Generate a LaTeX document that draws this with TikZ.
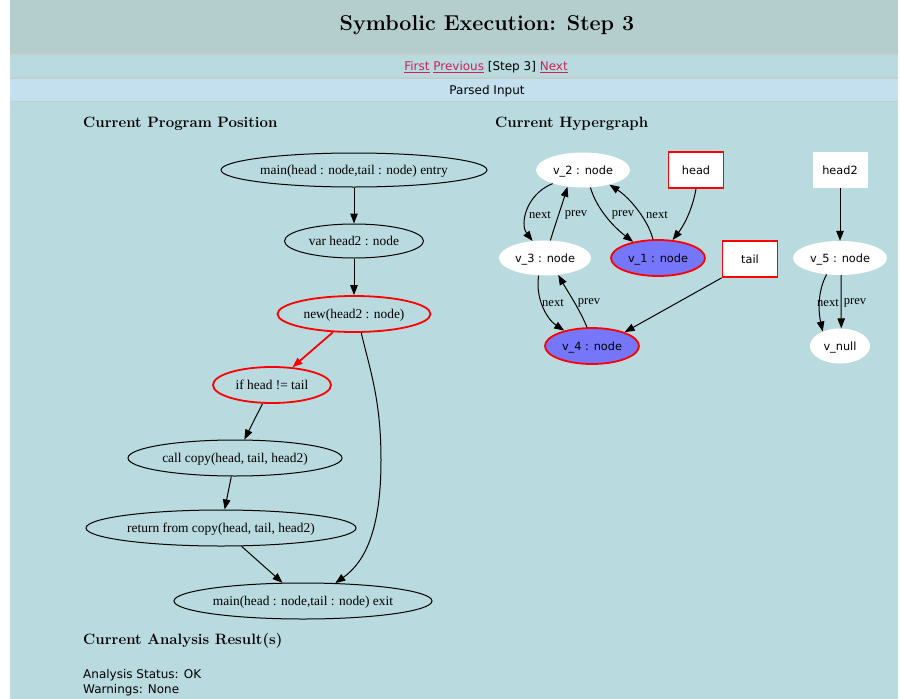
\documentclass[tikz,border=0pt]{standalone}
\usepackage{fontspec}
\usetikzlibrary{shapes.geometric,arrows.meta,calc}
\newfontfamily\dvs{DejaVu Sans}
\newfontfamily\tms{Liberation Serif}
\definecolor{pagebg}{HTML}{B9DADF}
\definecolor{titlebg}{HTML}{B4CDCD}
\definecolor{inputbg}{HTML}{C4E0EE}
\definecolor{rulegray}{HTML}{C4CCCC}
\definecolor{linkred}{HTML}{C8245A}
\definecolor{heapblue}{HTML}{7676FA}
\tikzset{
  prog/.style={ellipse, draw=black, line width=1pt, inner sep=0pt, text depth=0pt,
    font=\tms\fontsize{13.4}{15}\selectfont},
  hot/.style={draw=red, line width=1.8pt},
  heapnode/.style={ellipse, fill=white, inner sep=0pt, text depth=0pt,
    font=\dvs\fontsize{11.3}{13}\selectfont},
  marked/.style={fill=heapblue, draw=red, line width=1.8pt},
  varbox/.style={rectangle, fill=white, inner sep=0pt, minimum width=55, minimum height=36,
    text depth=0pt, font=\dvs\fontsize{11.3}{13}\selectfont},
  edge/.style={-{Triangle[length=10pt,width=7.5pt]}, line width=1pt},
  hotedge/.style={edge, draw=red, line width=1.8pt},
  elabel/.style={inner sep=0pt, font=\tms\fontsize{12.6}{14}\selectfont},
  heading/.style={anchor=west, inner sep=0pt, font=\bfseries\fontsize{15}{17}\selectfont},
  plain/.style={inner sep=0pt, font=\dvs\fontsize{12}{14}\selectfont},
}
\begin{document}
\begin{tikzpicture}[x=1pt,y=-1pt]
\useasboundingbox (0,0) rectangle (900,699);
\fill[white] (0,0) rectangle (900,699);
% page bands
\fill[pagebg] (10,0) rectangle (898,699);
\fill[titlebg] (10,0) rectangle (898,54);
\fill[inputbg] (10,79) rectangle (898,101);
\draw[rulegray, line width=1.5pt] (10,54) -- (898,54);
\draw[rulegray, line width=1.5pt] (10,78) -- (898,78);
\draw[rulegray, line width=1.5pt] (10,101.5) -- (898,101.5);

\node[inner sep=0pt, font=\bfseries\fontsize{21.5}{25}\selectfont] (title) at (487,25) {Symbolic Execution: Step 3};
\node[plain] (nav) at (486,67) {{\color{linkred}\underline{First}} {\color{linkred}\underline{Previous}} [Step 3] {\color{linkred}\underline{Next}}};
\node[plain] (parsed) at (487,91) {Parsed Input};

\node[heading] (hprog) at (83,123.5) {Current Program Position};
\node[heading] (hgraph) at (495,123.5) {Current Hypergraph};
\node[heading] (hres) at (83,640.5) {Current Analysis Result(s)};
\node[plain, anchor=west] (status) at (83,675) {Analysis Status: OK};
\node[plain, anchor=west] (warn) at (83,690) {Warnings: None};

% program positions
\node[prog, minimum width=266, minimum height=34] (entry) at (354,170) {main(head : node,tail : node) entry};
\node[prog, minimum width=139, minimum height=34] (var) at (354,241) {var head2 : node};
\node[prog, hot, minimum width=153, minimum height=36] (new) at (354,314) {new(head2 : node)};
\node[prog, hot, minimum width=118, minimum height=36] (if) at (272,385) {if head != tail};
\node[prog, minimum width=214, minimum height=36] (call) at (235,458) {call copy(head, tail, head2)};
\node[prog, minimum width=270, minimum height=36] (ret) at (221,528) {return from copy(head, tail, head2)};
\node[prog, minimum width=258, minimum height=36] (exit) at (303,601) {main(head : node,tail : node) exit};

\draw[edge] (entry) -- (var);
\draw[edge] (var) -- (new);
\draw[hotedge] (new) -- (if);
\draw[edge] (if) -- (call);
\draw[edge] (call) -- (ret);
\draw[edge] (ret) -- (exit);
\draw[edge] (new.291) .. controls (370,370) and (381,400) .. (381,460)
  .. controls (381,530) and (365,562) .. (exit.29);

% hypergraph
\node[heapnode, minimum width=94, minimum height=35] (v2) at (583,170) {v\_2 : node};
\node[varbox, draw=red, line width=1.8pt] (head) at (696,170) {head};
\node[varbox] (head2) at (840,170) {head2};
\node[heapnode, minimum width=92, minimum height=35] (v3) at (545,258) {v\_3 : node};
\node[heapnode, marked, minimum width=94, minimum height=36] (v1) at (658,258) {v\_1 : node};
\node[varbox, draw=red, line width=1.8pt] (tail) at (750,259) {tail};
\node[heapnode, minimum width=94, minimum height=34] (v5) at (840,258) {v\_5 : node};
\node[heapnode, marked, minimum width=94, minimum height=36] (v4) at (592,346) {v\_4 : node};
\node[heapnode, minimum width=60, minimum height=35] (vnull) at (840,346) {v\_null};

\draw[edge] (v2.204) .. controls (525,195) and (520,225) .. (v3.126);
\draw[edge] (v3.73) .. controls (556,222) and (562,205) .. (v2.227);
\draw[edge] (v2.293) .. controls (597,210) and (615,228) .. (v1.147);
\draw[edge] (v1.105) .. controls (648,220) and (630,198) .. (v2.331);
\draw[edge] (head.south) .. controls (692,212) and (682,228) .. (v1.51);
\draw[edge] (v3.250) .. controls (535,300) and (548,320) .. (v4.151);
\draw[edge] (v4.105) .. controls (580,310) and (568,292) .. (v3.308);
\draw[edge] (tail.south west) -- (v4.23);
\draw[edge] (head2) -- (v5);
\draw[edge] (v5.231) .. controls (818,290) and (818,310) .. (vnull.140);
\draw[edge] (v5.274) -- (vnull.86);

\node[elabel] (l1) at (540,215) {next};
\node[elabel] (l2) at (576,215) {prev};
\node[elabel] (l3) at (623,215) {prev};
\node[elabel] (l4) at (657,215) {next};
\node[elabel] (l5) at (553,303) {next};
\node[elabel] (l6) at (589,303) {prev};
\node[elabel] (l7) at (828,303) {next};
\node[elabel] (l8) at (855,303) {prev};
\end{tikzpicture}
\end{document}
